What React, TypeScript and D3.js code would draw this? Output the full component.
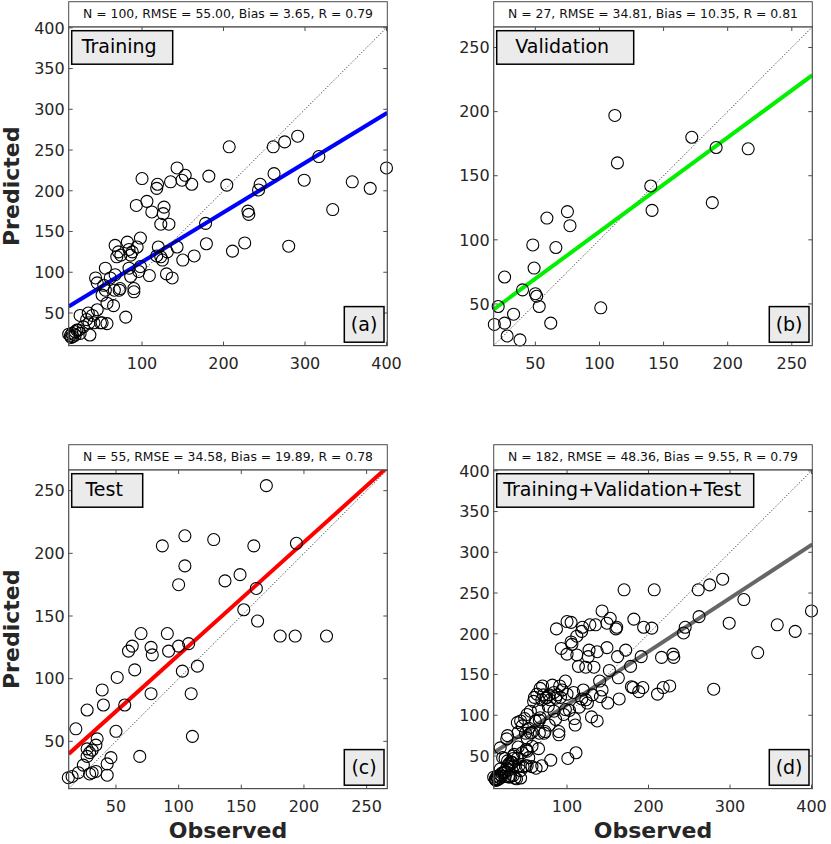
import React from "react";
import * as d3 from "d3";

type Pt = [number, number]; // [observed, predicted]

const trainingPoints: Pt[] = [
  [207, 254], [261, 254], [275, 260], [291, 267], [317, 242], [400, 228], [143, 228], [153, 219],
  [149, 213], [135, 211], [119, 208], [118, 203], [161, 208], [182, 218], [204, 207], [262, 221],
  [245, 208], [243, 201], [299, 213], [358, 211], [380, 203], [334, 177], [280, 132], [230, 175],
  [231, 171], [226, 136], [211, 126], [178, 160], [179, 135], [164, 120], [150, 115], [143, 131],
  [131, 125], [137, 93], [130, 98], [120, 131], [123, 119], [125, 115], [118, 120], [133, 159],
  [123, 159], [127, 180], [126, 172], [112, 174], [106, 187], [93, 182], [98, 142], [94, 131],
  [82, 137], [84, 128], [67, 133], [71, 125], [74, 121], [86, 121], [88, 125], [69, 119],
  [98, 107], [109, 96], [96, 101], [84, 105], [90, 80], [90, 76], [73, 80], [67, 97],
  [61, 93], [55, 105], [53, 84], [55, 78], [51, 72], [43, 93], [45, 87], [57, 62],
  [65, 59], [80, 45], [57, 37], [51, 38], [45, 54], [39, 47], [34, 50], [24, 47],
  [41, 38], [32, 42], [36, 23], [28, 33], [22, 29], [18, 27], [14, 25], [10, 24],
  [15, 21], [12, 22], [18, 23], [24, 25], [100, 215], [86, 95], [66, 78], [49, 38],
  [20, 29], [72, 78], [35, 38], [13, 20],
];

const validationPoints: Pt[] = [
  [112, 197], [114, 160], [172, 180], [191, 172], [216, 171], [140, 142], [141, 123], [188, 129],
  [59, 117], [75, 122], [77, 111], [48, 96], [66, 94], [49, 78], [26, 71], [40, 61],
  [50, 58], [51, 56], [53, 48], [21, 48], [33, 42], [26, 35], [18, 34], [62, 35],
  [28, 25], [38, 22], [101, 47],
];

const testPoints: Pt[] = [
  [170, 254], [87, 206], [105, 214], [105, 190], [128, 211], [160, 206], [194, 208], [100, 175],
  [137, 178], [149, 183], [162, 172], [152, 155], [163, 146], [181, 134], [193, 134], [218, 134],
  [70, 136], [91, 136], [63, 126], [60, 122], [78, 125], [79, 119], [92, 122], [100, 126],
  [108, 128], [115, 110], [103, 106], [65, 107], [51, 101], [39, 91], [40, 79], [27, 75],
  [57, 79], [78, 88], [110, 88], [18, 60], [50, 58], [111, 54], [35, 52], [34, 47],
  [27, 44], [29, 41], [27, 38], [69, 38], [46, 37], [43, 32], [24, 31], [43, 23],
  [34, 26], [29, 24], [20, 25], [15, 22], [12, 21], [31, 25], [31, 43],
];

const allPoints: Pt[] = [...trainingPoints, ...validationPoints, ...testPoints];

const setNames = ["Training", "Validation", "Test", "Training+Validation+Test"];
const panelTags = ["(a)", "(b)", "(c)", "(d)"];
const statLines = [
  "N = 100, RMSE = 55.00, Bias = 3.65, R = 0.79",
  "N = 27, RMSE = 34.81, Bias = 10.35, R = 0.81",
  "N = 55, RMSE = 34.58, Bias = 19.89, R = 0.78",
  "N = 182, RMSE = 48.36, Bias = 9.55, R = 0.79",
];
const fitSlopes = [0.608, 0.735, 0.9, 0.654];
const fitIntercepts = [51.9, 32.9, 28.9, 47.5];
const fitColors = ["#0000ff", "#00f000", "#ff0000", "#666666"];
const axisRanges: [number, number][] = [[10, 401], [17.5, 266], [12.3, 266.5], [10, 401]];
const xTicksBig = [100, 200, 300, 400];
const yTicksBig = [50, 100, 150, 200, 250, 300, 350, 400];
const ticksSmall = [50, 100, 150, 200, 250];

// layout
const plotLefts = [68.7, 493.7, 68.7, 493.7];
const plotTops = [27, 27, 470, 470];
const plotSize = 318.6;
const labelBoxWidths = [101, 137, 71, 257];

const ink = "#262626";
const frame = "#4d4d4d";
const font = "'DejaVu Sans', Verdana, sans-serif";

interface PanelProps {
  idx: number;
  points: Pt[];
  xTicks: number[];
  yTicks: number[];
}

function Panel({ idx, points, xTicks, yTicks }: PanelProps) {
  const left = plotLefts[idx];
  const top = plotTops[idx];
  const dom = axisRanges[idx];
  const x = d3.scaleLinear().domain(dom).range([left, left + plotSize]);
  const y = d3.scaleLinear().domain(dom).range([top + plotSize, top]);
  const bottom = top + plotSize;
  const right = left + plotSize;
  const clipId = `clip-${idx}`;
  const fit = d3
    .line<number>()
    .x((d) => x(d))
    .y((d) => y(fitSlopes[idx] * d + fitIntercepts[idx]));
  const boxW = labelBoxWidths[idx];
  const tickLen = 4;

  return (
    <g>
      <defs>
        <clipPath id={clipId}>
          <rect x={left} y={top} width={plotSize} height={plotSize} />
        </clipPath>
      </defs>
      {/* stats header */}
      <rect x={left} y={top - 25.3} width={plotSize} height={25.3} fill="#fff" stroke={frame} strokeWidth={1} />
      <text x={left + plotSize / 2} y={top - 8.6} textAnchor="middle" fontFamily={font} fontSize={12.4} fill="#111">
        {statLines[idx]}
      </text>
      <rect x={left} y={top} width={plotSize} height={plotSize} fill="#fff" />
      {/* 1:1 line */}
      <line x1={x(dom[0])} y1={y(dom[0])} x2={x(dom[1])} y2={y(dom[1])} stroke="#000" strokeWidth={0.9} strokeDasharray="1,2" />
      <g clipPath={`url(#${clipId})`}>
        <path d={fit(dom) || ""} stroke={fitColors[idx]} strokeWidth={4} fill="none" />
      </g>
      {points.map((p, i) => (
        <circle key={i} cx={x(p[0])} cy={y(p[1])} r={6} fill="none" stroke="#000" strokeWidth={1.1} />
      ))}
      {/* ticks */}
      {xTicks.map((t) => (
        <g key={`x${t}`}>
          <line x1={x(t)} x2={x(t)} y1={bottom} y2={bottom - tickLen} stroke={frame} />
          <line x1={x(t)} x2={x(t)} y1={top} y2={top + tickLen} stroke={frame} />
          <text x={x(t)} y={bottom + 23.5} textAnchor="middle" fontFamily={font} fontSize={16} fill={ink}>
            {t}
          </text>
        </g>
      ))}
      {yTicks.map((t) => (
        <g key={`y${t}`}>
          <line x1={left} x2={left + tickLen} y1={y(t)} y2={y(t)} stroke={frame} />
          <line x1={right} x2={right - tickLen} y1={y(t)} y2={y(t)} stroke={frame} />
          <text x={left - 4} y={y(t)} dy="0.36em" textAnchor="end" fontFamily={font} fontSize={16} fill={ink}>
            {t}
          </text>
        </g>
      ))}
      <rect x={left} y={top} width={plotSize} height={plotSize} fill="none" stroke={frame} strokeWidth={1.2} />
      {/* set name box */}
      <rect x={left + 3} y={top + 3.7} width={boxW} height={33.5} fill="#ebebeb" stroke="#000" strokeWidth={1.5} />
      <text x={left + 3 + boxW / 2 - 3} y={top + 26.3} textAnchor="middle" fontFamily={font} fontSize={19} fill="#000">
        {setNames[idx]}
      </text>
      {/* panel tag */}
      <rect x={right - 43} y={bottom - 39} width={39.7} height={35.6} fill="#ebebeb" stroke="#000" strokeWidth={1.5} />
      <text x={right - 23.2} y={bottom - 15} textAnchor="middle" fontFamily={font} fontSize={19} fill="#000">
        {panelTags[idx]}
      </text>
    </g>
  );
}

export default function App() {
  const sets = [trainingPoints, validationPoints, testPoints, allPoints];
  return (
    <svg width={831} height={844} style={{ position: "absolute", left: 0, top: 0, background: "#fff" }}>
      <rect width={831} height={844} fill="#fff" />
      {sets.map((pts, i) => {
        const big = i === 0 || i === 3;
        return (
          <Panel
            key={i}
            idx={i}
            points={pts}
            xTicks={big ? xTicksBig : ticksSmall}
            yTicks={big ? yTicksBig : ticksSmall}
          />
        );
      })}
      {[0, 1].map((r) => (
        <text
          key={`yl${r}`}
          transform={`translate(19,${plotTops[r * 2] + plotSize / 2}) rotate(-90)`}
          textAnchor="middle"
          fontFamily={font}
          fontWeight="bold"
          fontSize={22}
          fill={ink}
        >
          Predicted
        </text>
      ))}
      {[0, 1].map((c) => (
        <text
          key={`xl${c}`}
          x={plotLefts[c] + plotSize / 2}
          y={838}
          textAnchor="middle"
          fontFamily={font}
          fontWeight="bold"
          fontSize={22}
          fill={ink}
        >
          Observed
        </text>
      ))}
    </svg>
  );
}
